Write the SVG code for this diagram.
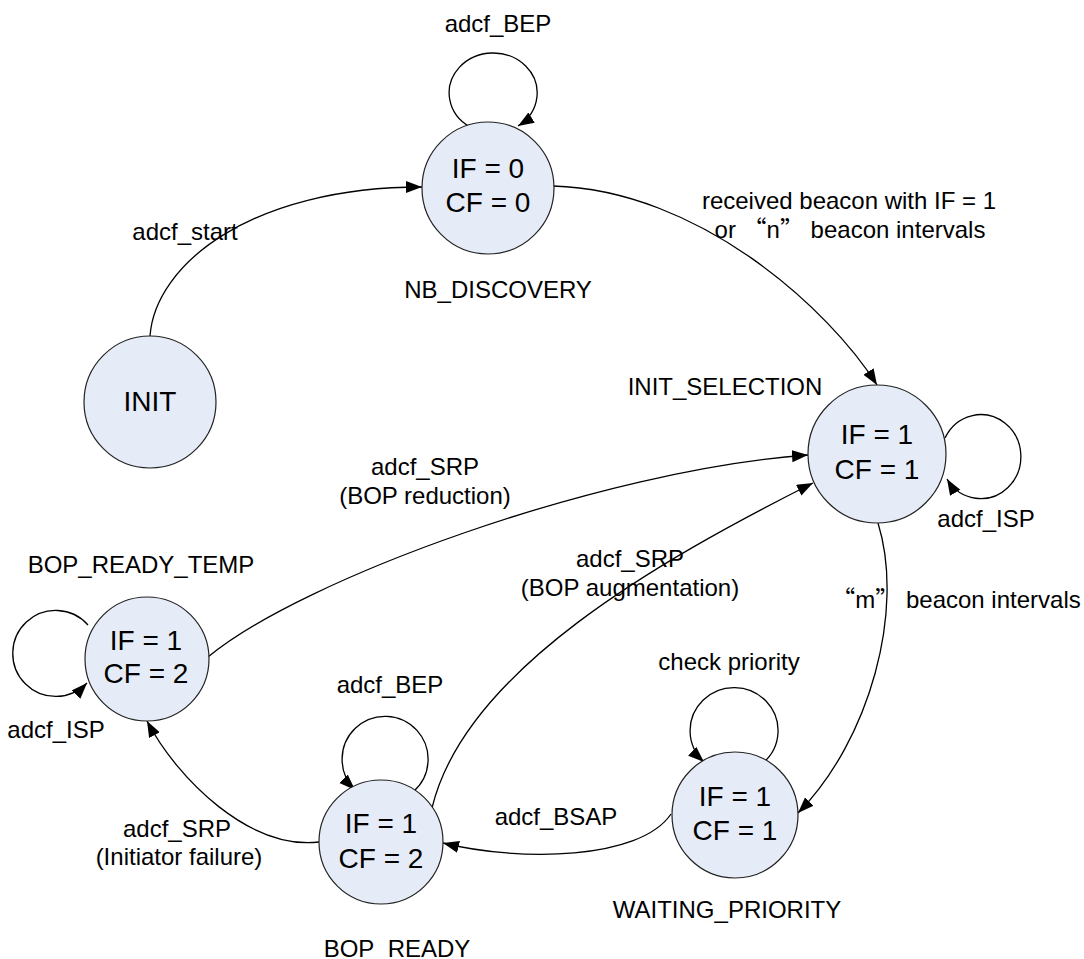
<svg xmlns="http://www.w3.org/2000/svg" width="1084" height="959" viewBox="0 0 1084 959">
<style>
  .state { fill: #e6ecf7; stroke: #222; stroke-width: 1.2; }
  .t { font-family: "Liberation Sans", Arial, sans-serif; fill: #000; text-anchor: middle; }
  .in { font-size: 28px; }
  .lb { font-size: 24px; }
  .cjk { font-family: "Noto Sans CJK SC", sans-serif; }
  .edge { fill: none; stroke: #000; stroke-width: 1.3; marker-end: url(#arr); }
</style>
<defs>
  <marker id="arr" markerUnits="userSpaceOnUse" markerWidth="17" markerHeight="13" refX="16" refY="6" orient="auto">
    <path d="M0,0 L16,6 L0,12 z" fill="#000"/>
  </marker>
</defs>
<rect width="1084" height="959" fill="#fff"/>

<g id="connectors">
  <path class="edge" d="M150,336 C 155,265 250,187 422,187"/>
  <path class="edge" d="M553,186 C 700,190 830,310 877,385"/>
  <path class="edge" d="M470,127 A 44 40 0 1 1 518,126"/>
  <path class="edge" d="M945,438 A 40 42 0 1 1 947,479"/>
  <path class="edge" d="M208,657 C 300,580 600,470 808,455"/>
  <path class="edge" d="M432,808 C 465,670 660,560 813,483"/>
  <path class="edge" d="M878,523 C 905,610 870,740 798,813"/>
  <path class="edge" d="M671,814 C 640,860 520,862 443,843"/>
  <path class="edge" d="M319,842 C 250,850 178,780 147,721"/>
  <path class="edge" d="M88,625 A 43 43 0 1 0 87,683"/>
  <path class="edge" d="M413,792 A 43 43 0 1 0 355,790"/>
  <path class="edge" d="M763,763 A 44 43 0 1 0 704,762"/>
</g>

<g id="edge-labels">
  <text class="t lb" x="498" y="32">adcf_BEP</text>
  <text class="t lb" x="185" y="240">adcf_start</text>
  <text class="t lb" x="849" y="209">received beacon with IF = 1</text>
  <text class="t lb" x="850" y="238">or <tspan class="cjk">“</tspan>n<tspan class="cjk">”</tspan> beacon intervals</text>
  <text class="t lb" x="986" y="527">adcf_ISP</text>
  <text class="t lb" x="425" y="475">adcf_SRP</text>
  <text class="t lb" x="425" y="504">(BOP reduction)</text>
  <text class="t lb" x="630" y="567">adcf_SRP</text>
  <text class="t lb" x="630" y="596">(BOP augmentation)</text>
  <text class="t lb" x="56" y="738">adcf_ISP</text>
  <text class="t lb" x="956" y="608"><tspan class="cjk">“</tspan>m<tspan class="cjk">”</tspan> beacon intervals</text>
  <text class="t lb" x="729" y="670">check priority</text>
  <text class="t lb" x="390" y="693">adcf_BEP</text>
  <text class="t lb" x="556" y="825">adcf_BSAP</text>
  <text class="t lb" x="177" y="837">adcf_SRP</text>
  <text class="t lb" x="179" y="865">(Initiator failure)</text>
</g>

<g id="INIT">
  <circle class="state" cx="150" cy="402" r="66"/>
  <text class="t in" x="150" y="411">INIT</text>
</g>

<g id="NB_DISCOVERY">
  <circle class="state" cx="488" cy="188" r="66"/>
  <text class="t in" x="488" y="178">IF = 0</text>
  <text class="t in" x="488" y="212">CF = 0</text>
  <text class="t lb" x="498" y="298">NB_DISCOVERY</text>
</g>

<g id="INIT_SELECTION">
  <circle class="state" cx="877" cy="454" r="69"/>
  <text class="t in" x="877" y="444">IF = 1</text>
  <text class="t in" x="877" y="479">CF = 1</text>
  <text class="t lb" x="725" y="395">INIT_SELECTION</text>
</g>

<g id="BOP_READY_TEMP">
  <circle class="state" cx="147" cy="659" r="62"/>
  <text class="t in" x="146" y="650">IF = 1</text>
  <text class="t in" x="146" y="683">CF = 2</text>
  <text class="t lb" x="141" y="573">BOP_READY_TEMP</text>
</g>

<g id="BOP_READY">
  <circle class="state" cx="381" cy="842" r="62"/>
  <text class="t in" x="381" y="833">IF = 1</text>
  <text class="t in" x="381" y="868">CF = 2</text>
  <text class="t lb" x="397" y="957">BOP_READY</text>
</g>

<g id="WAITING_PRIORITY">
  <circle class="state" cx="735" cy="815" r="63"/>
  <text class="t in" x="735" y="806">IF = 1</text>
  <text class="t in" x="735" y="840">CF = 1</text>
  <text class="t lb" x="727" y="918">WAITING_PRIORITY</text>
</g>
</svg>
